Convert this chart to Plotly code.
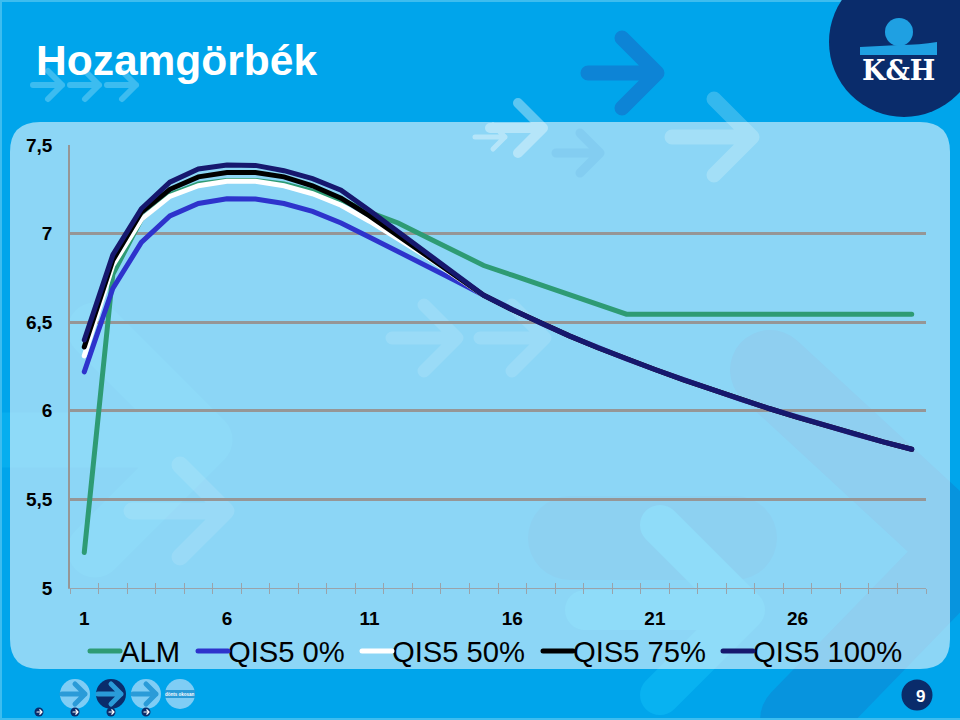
import plotly.graph_objects as go

years = list(range(1, 31))
tail = [6.652, 6.57, 6.494, 6.423, 6.356, 6.293, 6.233, 6.175, 6.119, 6.065, 6.013, 5.963, 5.915, 5.869, 5.825, 5.783]
alm = [5.2, 6.77, 7.08, 7.22, 7.28, 7.30, 7.30, 7.28, 7.24, 7.19, 7.12, 7.06, 6.98, 6.90, 6.82,
       6.765, 6.71, 6.655, 6.60, 6.545, 6.545, 6.545, 6.545, 6.545, 6.545, 6.545, 6.545, 6.545, 6.545, 6.545]
qis0 = [6.22, 6.69, 6.95, 7.10, 7.17, 7.197, 7.195, 7.17, 7.125, 7.06, 6.98, 6.90, 6.82, 6.735] + tail
qis50 = [6.31, 6.82, 7.08, 7.21, 7.27, 7.295, 7.295, 7.27, 7.225, 7.16, 7.07, 6.97, 6.87, 6.76] + tail
qis75 = [6.36, 6.85, 7.12, 7.25, 7.32, 7.345, 7.345, 7.32, 7.27, 7.20, 7.10, 6.99, 6.88, 6.77] + tail
qis100 = [6.40, 6.88, 7.14, 7.29, 7.365, 7.387, 7.385, 7.355, 7.31, 7.245, 7.13, 7.01, 6.89, 6.775] + tail

series = [("ALM", alm, "#2E9B74"), ("QIS5 0%", qis0, "#2E33CC"), ("QIS5 50%", qis50, "#FFFFFF"),
          ("QIS5 75%", qis75, "#000000"), ("QIS5 100%", qis100, "#16186E")]

y_ticks = [5, 5.5, 6, 6.5, 7, 7.5]
y_labels = ["5", "5,5", "6", "6,5", "7", "7,5"]
x_ticks = [1, 6, 11, 16, 21, 26]

L, R, T, B = 70, 926, 145, 588
NAVY = "#0A2C6B"


def px(x):
    return (x - L) / (R - L)


def py(y):
    return (B - y) / (B - T)


def path(cmds):
    out = []
    for c in cmds:
        if c == "Z":
            out.append("Z")
        else:
            op, *p = c
            s = [f"{px(p[i]):.5f},{py(p[i+1]):.5f}" for i in range(0, len(p), 2)]
            out.append(op + " ".join(s))
    return " ".join(out)


def shape(cmds, color, opacity=1.0):
    return dict(type="path", xref="paper", yref="paper", path=path(cmds), fillcolor=color,
                opacity=opacity, line=dict(width=0), layer="below")


def stroke(cmds, color, width, opacity=1.0):
    return dict(type="path", xref="paper", yref="paper", path=path(cmds), fillcolor="rgba(0,0,0,0)",
                opacity=opacity, line=dict(width=width, color=color), layer="below")


def circle(cx, cy, r, color, opacity=1.0):
    return dict(type="circle", xref="paper", yref="paper", x0=px(cx - r), x1=px(cx + r),
                y0=py(cy + r), y1=py(cy - r), fillcolor=color, opacity=opacity,
                line=dict(width=0), layer="below")


def arrow(x0, tip, cy, hw, width, color, opacity=1.0):
    return stroke([("M", x0, cy), ("L", tip, cy), ("M", tip - hw, cy - hw), ("L", tip, cy), ("L", tip - hw, cy + hw)],
                  color, width, opacity)


def rrect(x0, y0, x1, y1, r, color, opacity=1.0):
    return shape([("M", x0 + r, y0), ("L", x1 - r, y0), ("Q", x1, y0, x1, y0 + r), ("L", x1, y1 - r),
                  ("Q", x1, y1, x1 - r, y1), ("L", x0 + r, y1), ("Q", x0, y1, x0, y1 - r), ("L", x0, y0 + r),
                  ("Q", x0, y0, x0 + r, y0), "Z"], color, opacity)


shapes = [
    # page decorations, seen through the translucent panel
    stroke([("M", 770, 370), ("L", 965, 550), ("L", 800, 720)], "#0794DE", 80),
    stroke([("M", 570, 538), ("L", 735, 538)], "#0794DE", 84, 0.7),
    arrow(-20, 205, 440, 110, 55, "#06AEEF"),
    arrow(585, 745, 610, 85, 40, "#08B2F1"),
    arrow(588, 657, 73, 35, 15, "#0D84D6"),
    arrow(33, 62, 85, 14, 6, "#3CBCF0"), arrow(70, 99, 85, 14, 6, "#3CBCF0"), arrow(107, 136, 85, 14, 6, "#3CBCF0"),
    arrow(672, 752, 137, 38, 15, "#34B8EE"),
    arrow(490, 543, 128, 25, 10, "#5CC6F2"),
    arrow(475, 505, 137, 12, 5, "#5CC6F2"),
    # page edge
    shape([("M", 0, 0), ("L", 960, 0), ("L", 960, 2), ("L", 2, 2), ("L", 2, 720), ("L", 0, 720), "Z"], "#3DBDEF"),
    shape([("M", 0, 718), ("L", 960, 718), ("L", 960, 720), ("L", 0, 720), "Z"], "#3DBDEF"),
    # panel
    rrect(10, 122, 950, 669, 30, "#FFFFFF", 0.55),
    # arrows lying on the panel
    arrow(556, 600, 153, 20, 9, "#6FB8E5", 0.28),
    arrow(392, 457, 338, 33, 13, "#FFFFFF", 0.12), arrow(480, 545, 338, 33, 13, "#FFFFFF", 0.12),
    arrow(132, 226, 511, 46, 17, "#FFFFFF", 0.11),
    # logo
    circle(904, 42, 75, NAVY),
    circle(899, 32, 14, "#1FA0E2"),
    shape([("M", 860, 47), ("Q", 880, 46, 899, 45), ("Q", 920, 45, 937, 42), ("L", 937, 55), ("L", 860, 55), "Z"], "#1FA0E2"),
    # navigation
    circle(75, 694, 15, "#7FCDF5"), arrow(62, 85, 694, 10, 5, "#2A9BD8"),
    circle(111, 694, 15, NAVY), arrow(98, 121, 694, 10, 5, "#2A9BD8"),
    circle(146, 694, 15, "#7FCDF5"), arrow(133, 156, 694, 10, 5, "#2A9BD8"),
    circle(180, 694, 15, "#7FCDF5"),
    shape([("M", 165, 690), ("L", 195, 690), ("L", 195, 698), ("L", 165, 698), "Z"], "#2A9BD8"),
    circle(39, 712, 4.5, NAVY), arrow(37, 42, 712, 2.2, 1.2, "#FFFFFF"),
    circle(75, 712, 4.5, NAVY), arrow(73, 78, 712, 2.2, 1.2, "#FFFFFF"),
    circle(111, 712, 4.5, NAVY), arrow(109, 114, 712, 2.2, 1.2, "#FFFFFF"),
    circle(146, 712, 4.5, NAVY), arrow(144, 149, 712, 2.2, 1.2, "#FFFFFF"),
    # page number
    circle(917, 695, 15.5, NAVY),
]

fig = go.Figure()
for name, vals, col in series:
    fig.add_trace(go.Scatter(x=years, y=vals, mode="lines", name=name, line=dict(color=col, width=5)))
# carrier for the upper half of the crossing tick marks
fig.add_trace(go.Scatter(x=[1], y=[5], xaxis="x2", mode="lines", showlegend=False, hoverinfo="skip",
                         line=dict(width=0)))

half_ticks = [v + 0.5 for v in range(0, 31)]
BOLD = dict(size=19, color="#000000", family="Liberation Sans, Arial, sans-serif", weight="bold")
fig.update_layout(
    width=960, height=720, autosize=False,
    margin=dict(l=L, r=960 - R, t=T, b=720 - B, autoexpand=False),
    paper_bgcolor="#00A5EB", plot_bgcolor="rgba(0,0,0,0)",
    font=dict(family="Liberation Sans, Arial, sans-serif", color="#000000"),
    title=dict(text="<b>Hozamgörbék</b>", x=36 / 960, xref="container", xanchor="left",
               y=1 - 60 / 720, yanchor="middle", yref="container",
               font=dict(size=42.5, color="#FFFFFF")),
    shapes=shapes,
    xaxis=dict(range=[0.5, 30.5], tickmode="array", tickvals=x_ticks, ticktext=[str(v) for v in x_ticks],
               ticks="", showgrid=False, showline=True, linecolor="#9AA3AA", linewidth=1, zeroline=False,
               tickfont=BOLD, ticklabelstandoff=13,
               minor=dict(tickmode="array", tickvals=half_ticks, ticks="outside", ticklen=5, tickwidth=1,
                          tickcolor="#9AA3AA", showgrid=False)),
    xaxis2=dict(range=[0.5, 30.5], overlaying="x", anchor="y", side="bottom", tickmode="array",
                tickvals=half_ticks, ticktext=["" for _ in half_ticks], ticks="inside", ticklen=5, tickwidth=1,
                tickcolor="#9AA3AA", showgrid=False, showline=False, zeroline=False),
    yaxis=dict(range=[5, 7.5], tickmode="array", tickvals=y_ticks, ticktext=y_labels, ticks="",
               showgrid=True, gridcolor="#969696", gridwidth=2.5, showline=True, linecolor="#969696",
               linewidth=1.5, zeroline=False, ticklabelstandoff=12, tickfont=BOLD),
    legend=dict(orientation="h", x=85 / 960, xref="container", xanchor="left", y=1 - 625.5 / 720,
                yref="container", yanchor="top", font=dict(size=29.2, color="#000000"),
                bgcolor="rgba(0,0,0,0)", itemwidth=30, tracegroupgap=0),
    annotations=[
        dict(text="<b>K&H</b>", xref="paper", yref="paper", x=px(898.5), y=py(70), showarrow=False,
             xanchor="center", yanchor="middle",
             font=dict(size=27, color="#FFFFFF", family="DejaVu Serif, serif")),
        dict(text="<b>9</b>", xref="paper", yref="paper", x=px(920.5), y=py(696), showarrow=False,
             xanchor="center", yanchor="middle",
             font=dict(size=17, color="#FFFFFF", family="Liberation Sans, Arial, sans-serif")),
        dict(text="<b>dönts okosan</b>", xref="paper", yref="paper", x=px(180), y=py(694), showarrow=False,
             xanchor="center", yanchor="middle",
             font=dict(size=4.5, color="#FFFFFF", family="Liberation Sans, Arial, sans-serif")),
    ],
)

post = """
document.body.style.margin='0';
document.documentElement.style.overflow='hidden';
document.querySelectorAll('.shapelayer path').forEach(function(p){p.style.strokeLinecap='round';p.style.strokeLinejoin='round';});
document.querySelectorAll('.scatterlayer .js-line, .legendlines path').forEach(function(p){p.style.strokeLinecap='round';});
var xs=[0,108,272,453,633];
document.querySelectorAll('.legend .traces').forEach(function(t,i){
  var m=(t.getAttribute('transform')||'').match(/translate\\(([-\\d.]+)[ ,]*([-\\d.]*)/);
  t.setAttribute('transform','translate('+xs[i]+','+((m&&m[2])||0)+')');
  var s=t.querySelector('.legendtext'); if(s){s.setAttribute('x',35);}
});
"""
fig.write_html("out.html", post_script=post, config={"displayModeBar": False})
